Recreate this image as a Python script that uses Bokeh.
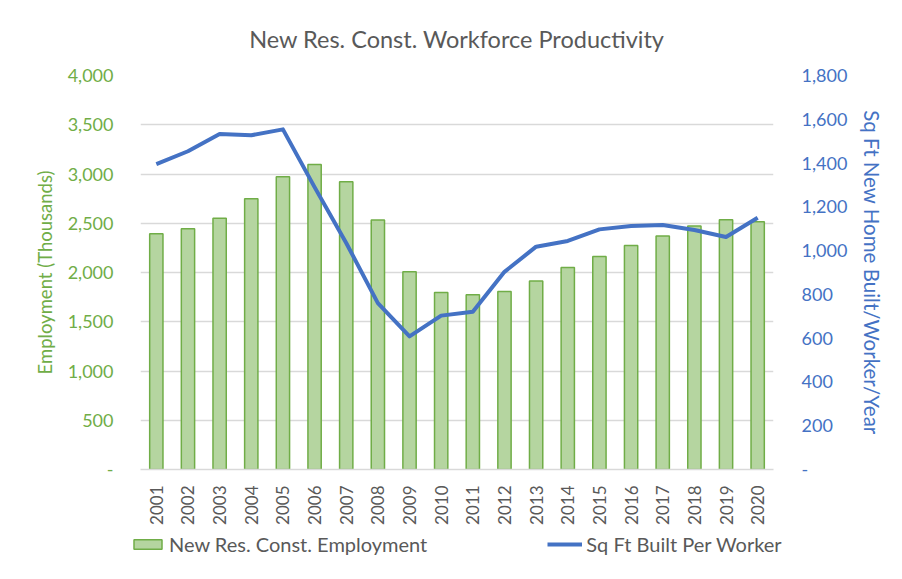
import math
from bokeh.plotting import figure
from bokeh.layouts import column, row
from bokeh.models import (Range1d, LinearAxis, FixedTicker, NumeralTickFormatter,
                          Legend, LegendItem, FactorRange, ColumnDataSource, Title)
from bokeh.embed import file_html
from bokeh.resources import INLINE

years = [str(y) for y in range(2001, 2021)]
employment = [2394, 2445, 2550, 2749, 2971, 3097, 2921, 2533, 2007, 1797,
              1774, 1807, 1913, 2050, 2162, 2273, 2371, 2472, 2536, 2516]
sqft_per_worker = [1395, 1454, 1533, 1527, 1554, 1290, 1035, 760, 608, 703,
                   721, 903, 1018, 1044, 1097, 1112, 1117, 1094, 1062, 1150]

left_ticks = [0, 500, 1000, 1500, 2000, 2500, 3000, 3500, 4000]
right_ticks = [0, 200, 400, 600, 800, 1000, 1200, 1400, 1600, 1800]
legend_labels = ["New Res. Const. Employment", "Sq Ft Built Per Worker"]

FONT = "Lato"
GREEN = "#70AD47"
BLUE = "#4472C4"
GRAY = "#595959"
GRID = "#D9D9D9"
BAR_FILL = "#B5D5A0"

src = ColumnDataSource(dict(year=years, emp=employment, sqft=sqft_per_worker))

p = figure(width=900, height=530,
           x_range=FactorRange(*years, range_padding=0),
           y_range=Range1d(0, 4000), output_backend="svg", toolbar_location=None,
           min_border_left=140, min_border_right=127, min_border_top=74,
           min_border_bottom=61)
p.outline_line_color = None
p.extra_y_ranges = {"right": Range1d(0, 1800)}

p.title = Title(text="New Res. Const. Workforce Productivity", align="center",
                text_font=FONT, text_font_size="23.5px", text_font_style="normal",
                text_color=GRAY, offset=0, standoff=45)

bars = p.vbar(x="year", top="emp", width=0.42, source=src,
              fill_color=BAR_FILL, line_color=GREEN, line_width=1.5)
line = p.line(x="year", y="sqft", source=src, y_range_name="right",
              line_color=BLUE, line_width=4, line_join="round")

# left axis
ya = p.yaxis[0]
ya.ticker = FixedTicker(ticks=left_ticks)
ya.formatter = NumeralTickFormatter(format="0,0")
ya.major_label_overrides = {0: "-"}
ya.axis_line_color = None
ya.major_tick_line_color = None
ya.minor_tick_line_color = None
ya.major_label_text_color = GREEN
ya.major_label_text_font = FONT
ya.major_label_text_font_size = "18px"
ya.major_label_standoff = 21
ya.axis_label = "Employment (Thousands)"
ya.axis_label_text_color = GREEN
ya.axis_label_text_font = FONT
ya.axis_label_text_font_size = "18.5px"
ya.axis_label_text_font_style = "normal"
ya.axis_label_standoff = 9

# right axis
ra = LinearAxis(y_range_name="right", ticker=FixedTicker(ticks=right_ticks),
                formatter=NumeralTickFormatter(format="0,0"))
ra.major_label_overrides = {0: "-"}
ra.axis_line_color = None
ra.major_tick_line_color = None
ra.minor_tick_line_color = None
ra.major_label_text_color = BLUE
ra.major_label_text_font = FONT
ra.major_label_text_font_size = "18px"
ra.major_label_standoff = 22
ra.axis_label = "Sq Ft New Home Built/Worker/Year"
ra.axis_label_text_color = BLUE
ra.axis_label_text_font = FONT
ra.axis_label_text_font_size = "20.5px"
ra.axis_label_text_font_style = "normal"
ra.axis_label_standoff = 10
p.add_layout(ra, "right")

# x axis
xa = p.xaxis[0]
xa.major_label_orientation = math.pi / 2
xa.major_label_text_color = GRAY
xa.major_label_text_font = FONT
xa.major_label_text_font_size = "17px"
xa.major_label_standoff = 10
xa.axis_line_color = GRID
xa.axis_line_width = 1.5
xa.major_tick_line_color = None
xa.minor_tick_line_color = None

p.xgrid.grid_line_color = None
p.ygrid.grid_line_color = GRID
p.ygrid.grid_line_width = 1.5
p.ygrid.ticker = FixedTicker(ticks=left_ticks)

# legend strip below the chart: same series styles, renderers hidden,
# so only the legend entries show
q = figure(width=900, height=47, x_range=FactorRange(*years), y_range=Range1d(0, 4000),
           output_backend="svg", toolbar_location=None,
           x_axis_location=None, y_axis_location=None,
           min_border_left=0, min_border_right=0, min_border_top=0,
           min_border_bottom=0)
q.outline_line_color = None
q.grid.visible = False
lg_bar = q.vbar(x="year", top="emp", width=0.42, source=src,
                fill_color=BAR_FILL, line_color=GREEN, line_width=1.5)
lg_line = q.line(x="year", y="sqft", source=src,
                 line_color=BLUE, line_width=4)
lg_bar.visible = False
lg_line.visible = False

legend = Legend(items=[LegendItem(label=legend_labels[0], renderers=[lg_bar]),
                       LegendItem(label=legend_labels[1], renderers=[lg_line])],
                orientation="horizontal", location=(130, 21),
                padding=0, margin=0, spacing=120, label_standoff=4,
                glyph_width=35, glyph_height=12,
                label_text_font=FONT, label_text_font_size="20px",
                label_text_color=GRAY, background_fill_alpha=0,
                border_line_color=None, inactive_fill_alpha=0)
q.add_layout(legend, "center")

layout = column(p, row(q), spacing=0)
open("out.html", "w").write(file_html(layout, INLINE))
